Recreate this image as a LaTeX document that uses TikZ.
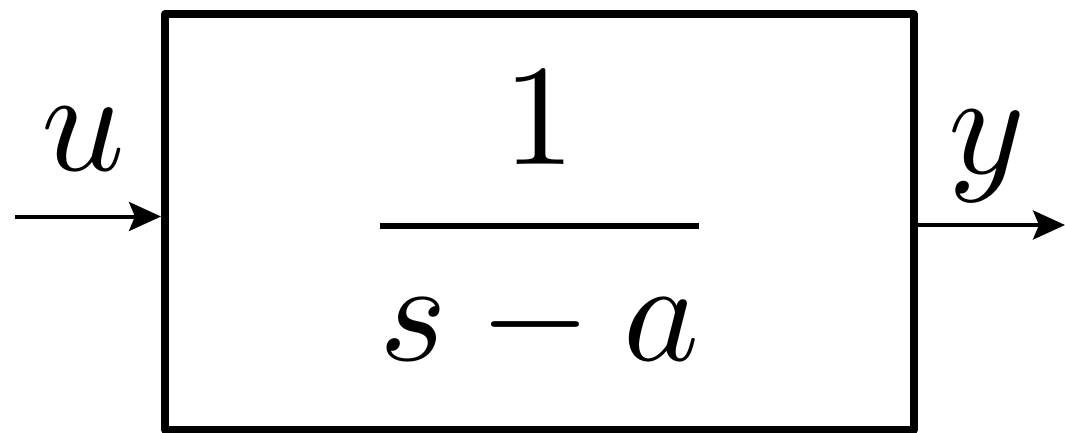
\documentclass[tikz,border=0pt]{standalone}
\usetikzlibrary{arrows.meta}
\begin{document}
\begin{tikzpicture}[
    x=1pt, y=-1pt,
    block_style/.style={rectangle, draw, line width=8pt, line join=round, minimum width=749pt, minimum height=415pt, inner sep=0pt},
    sig/.style={-{Stealth[length=32pt, width=29pt, inset=6pt]}, line width=4pt},
    lab/.style={scale=14.6, inner sep=0pt, anchor=base}
]
\useasboundingbox (0,0) rectangle (1065,433);

\node[block_style] (plant) at (539.5, 222) {\scalebox{14.4}{$\displaystyle\frac{1}{s-a}$}};

\coordinate (in) at (15, 216.5);
\coordinate (out) at (1065, 225);
\draw[sig] (in) -- (in -| plant.west);
\draw[sig] (out -| plant.east) -- (out);

\node[lab] (ulab) at (83, 170) {$u$};
\node[lab] (ylab) at (987, 173) {$y$};
\end{tikzpicture}
\end{document}
